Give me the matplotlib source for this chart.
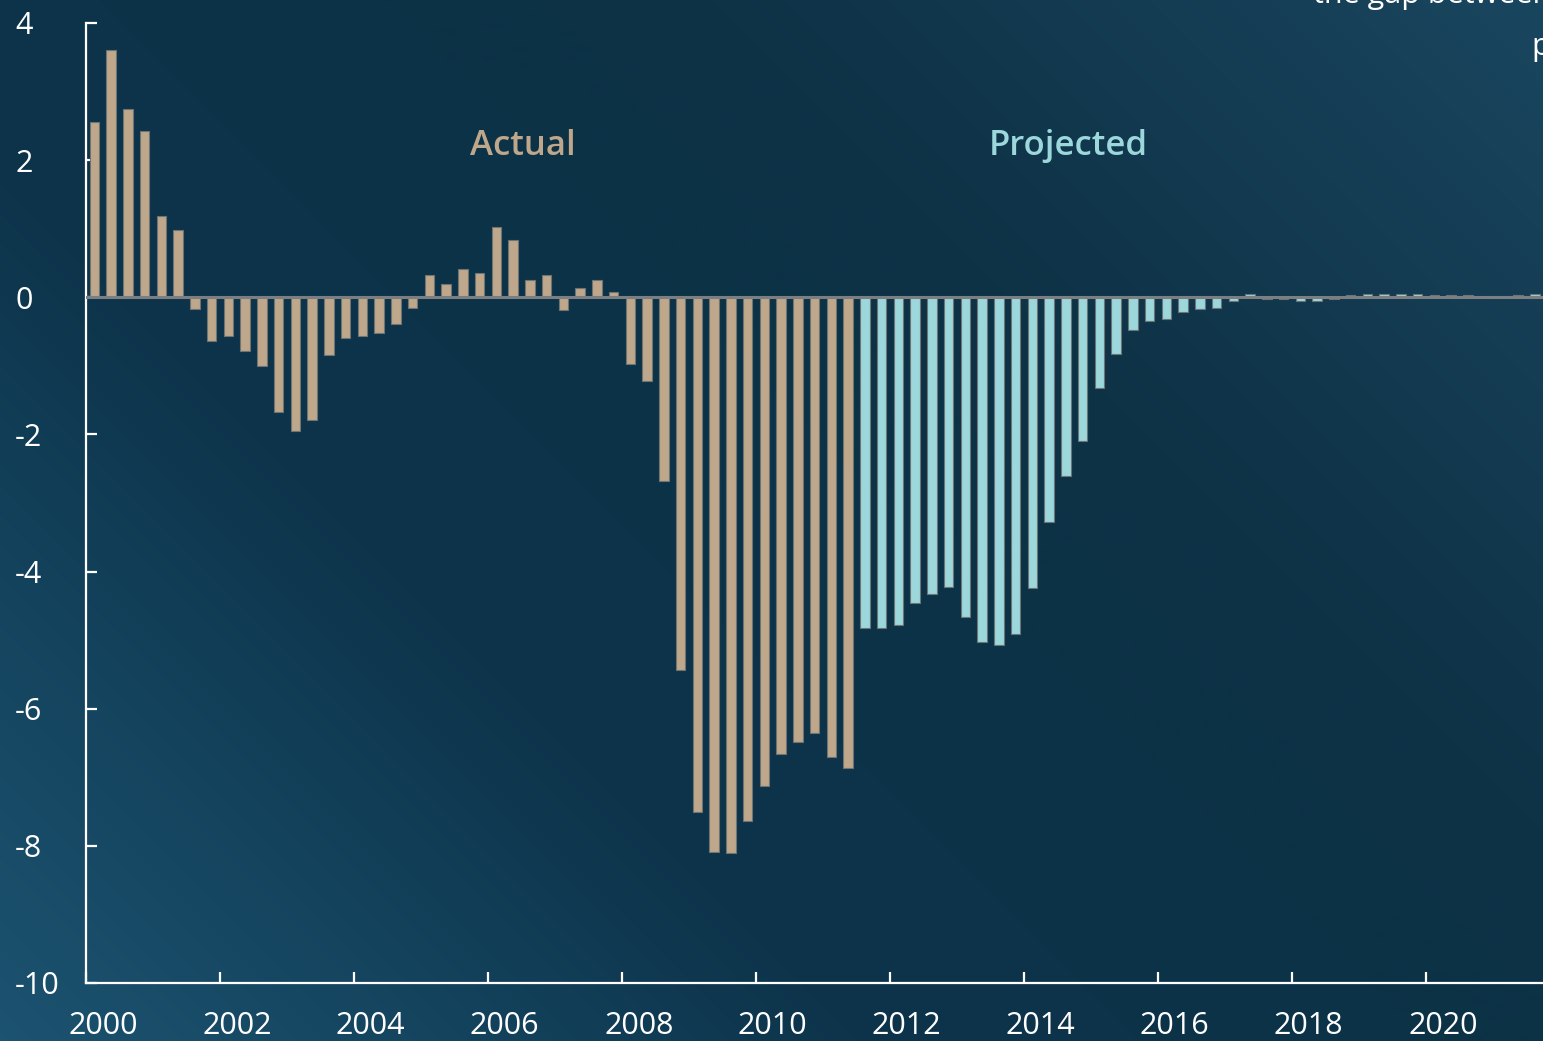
import numpy as np
import matplotlib
matplotlib.use("Agg")
import matplotlib.pyplot as plt
from matplotlib.colors import LinearSegmentedColormap

# ---- data (quarterly output gap, % of potential) ----
actual_values = [2.56, 3.61, 2.75, 2.43, 1.19, 0.98, -0.17, -0.64, -0.57, -0.79,
                 -1.00, -1.67, -1.95, -1.79, -0.84, -0.60, -0.57, -0.52, -0.39, -0.16,
                 0.32, 0.20, 0.41, 0.35, 1.02, 0.84, 0.25, 0.32, -0.18, 0.14,
                 0.25, 0.08, -0.97, -1.22, -2.68, -5.43, -7.51, -8.09, -8.11, -7.64,
                 -7.13, -6.66, -6.49, -6.35, -6.71, -6.87]
projected_values = [-4.83, -4.83, -4.78, -4.46, -4.33, -4.22, -4.66, -5.02, -5.07, -4.91,
                    -4.24, -3.28, -2.61, -2.10, -1.32, -0.83, -0.48, -0.34, -0.31, -0.22,
                    -0.17, -0.15, -0.05, 0.05, -0.03, -0.03, -0.05, -0.05, -0.03, 0.04,
                    0.05, 0.045, 0.045, 0.045, 0.03, 0.03, 0.03, 0.01, 0.01, 0.03, 0.045]
start_year = 2000
year_ticks = list(range(2000, 2021, 2))
year_labels = [str(y) for y in year_ticks]
y_ticks = [4, 2, 0, -2, -4, -6, -8, -10]
y_labels = [str(v) for v in y_ticks]

n_act = len(actual_values)
x_act = [start_year + (i + 0.5) / 4 for i in range(n_act)]
x_proj = [start_year + (n_act + i + 0.5) / 4 for i in range(len(projected_values))]

TAN = "#BEA78A"
CYAN = "#9BD7DB"
EDGE = "#6E7474"

W, H = 1543, 1041
fig = plt.figure(figsize=(W / 100, H / 100), dpi=100)

# background gradient
bg = fig.add_axes([0, 0, 1, 1], zorder=-10)
bg.set_axis_off()
yy, xx = np.mgrid[0:H:2, 0:W:2]
t = (xx / W + (1 - yy / H) * (H / W)) / (1 + H / W)
cmap = LinearSegmentedColormap.from_list(
    "bg", [(0.0, "#1c5370"), (0.18, "#14435d"), (0.33, "#0d344b"),
           (0.55, "#0c3247"), (0.68, "#0e3246"), (0.85, "#143c53"), (1.0, "#19465f")])
bg.imshow(t, cmap=cmap, aspect="auto", extent=[0, 1, 0, 1], origin="upper")
bg.set_xlim(0, 1); bg.set_ylim(0, 1)

ax = fig.add_axes([86 / W, (H - 983) / H, (W - 86) / W, (983 - 23) / H])
ax.patch.set_alpha(0)

bw = 0.145
ax.bar(x_act, actual_values, width=bw, color=TAN, edgecolor=EDGE, linewidth=0.8, zorder=2)
ax.bar(x_proj, projected_values, width=bw, color=CYAN, edgecolor=EDGE, linewidth=0.8, zorder=2)
ax.axhline(0, color="#7b7f82", linewidth=2.2, zorder=3)

ax.set_xlim(2000, 2000 + (W - 86) / 67.0)
ax.set_ylim(-10, 4)

for s in ["top", "right"]:
    ax.spines[s].set_visible(False)
for s in ["left", "bottom"]:
    ax.spines[s].set_color("white")
    ax.spines[s].set_linewidth(1.6)

font = "Open Sans"
ax.set_yticks(y_ticks)
ax.set_yticklabels(y_labels, fontsize=22, color="white", fontfamily=font)
for lab in ax.get_yticklabels():
    lab.set_horizontalalignment("left")
ax.tick_params(axis="y", direction="in", length=8, width=1.6, color="white", pad=51)

ax.set_xticks(year_ticks)
ax.set_xticklabels([])
ax.set_xticks([y + 0.25 for y in year_ticks], minor=True)
ax.set_xticklabels(year_labels, minor=True, fontsize=22, color="white", fontfamily=font)
ax.tick_params(axis="x", which="major", direction="in", length=8, width=1.6, color="white")
ax.tick_params(axis="x", which="minor", length=0, pad=20)

ax.text(2000 + (523 - 86) / 67.0, 2.07, "Actual", color=TAN, fontsize=25,
        fontweight="semibold", fontfamily=font, ha="center", va="baseline")
ax.text(2000 + (1068 - 86) / 67.0, 2.07, "Projected", color=CYAN, fontsize=25,
        fontweight="semibold", fontfamily=font, ha="center", va="baseline")

# partial annotation text cut by the figure edge (as in the reference)
fig.text(1313 / W, 1 - 3 / H, "the gap between actual and", color="white",
         fontsize=22, fontfamily=font, ha="left", va="baseline")
fig.text(1532 / W, 1 - 55 / H, "potential output", color="white",
         fontsize=22, fontfamily=font, ha="left", va="baseline")

fig.savefig("out.png", dpi=100)
